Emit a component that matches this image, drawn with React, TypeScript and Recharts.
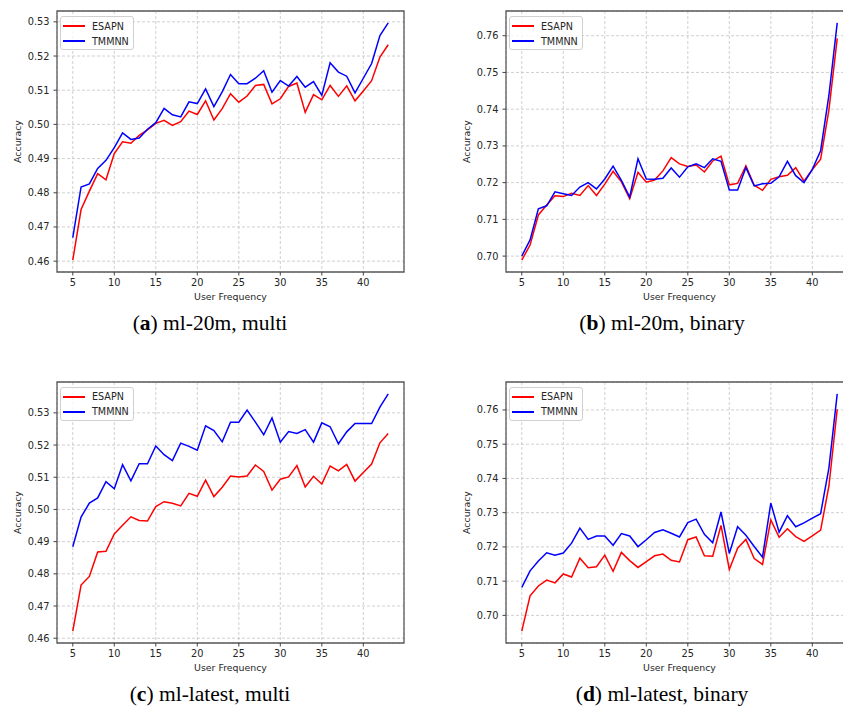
import { LineChart, Line, XAxis, YAxis, CartesianGrid, Legend, ReferenceArea } from "recharts";

const userFrequency = [5, 6, 7, 8, 9, 10, 11, 12, 13, 14, 15, 16, 17, 18, 19, 20, 21, 22, 23, 24, 25, 26, 27, 28, 29, 30, 31, 32, 33, 34, 35, 36, 37, 38, 39, 40, 41, 42, 43];
const xTicks = [5, 10, 15, 20, 25, 30, 35, 40];

// ml-20m, multi
const esapn20mMulti = [0.4603, 0.4751, 0.4805, 0.4856, 0.4838, 0.4915, 0.4949, 0.4945, 0.4968, 0.4984, 0.5003, 0.5012, 0.4997, 0.5008, 0.5039, 0.5029, 0.5069, 0.5013, 0.5046, 0.509, 0.5065, 0.5083, 0.5114, 0.5117, 0.506, 0.5075, 0.5111, 0.5121, 0.5035, 0.5087, 0.5072, 0.5114, 0.5082, 0.5113, 0.5069, 0.5098, 0.5128, 0.5197, 0.5233];
const tmmnn20mMulti = [0.4669, 0.4817, 0.4826, 0.4871, 0.4895, 0.4932, 0.4975, 0.4956, 0.496, 0.4986, 0.5005, 0.5047, 0.5028, 0.5022, 0.5066, 0.5061, 0.5104, 0.5052, 0.5095, 0.5146, 0.5119, 0.5119, 0.5135, 0.5157, 0.5094, 0.5128, 0.5112, 0.514, 0.5109, 0.5125, 0.5085, 0.518, 0.5153, 0.5141, 0.5092, 0.5135, 0.5178, 0.526, 0.5297];

// ml-20m, binary
const esapn20mBinary = [0.6989, 0.703, 0.7112, 0.7139, 0.7164, 0.7162, 0.7171, 0.7165, 0.7192, 0.7165, 0.7196, 0.7231, 0.7202, 0.7156, 0.7228, 0.7201, 0.7207, 0.7232, 0.7268, 0.7251, 0.7244, 0.7248, 0.7229, 0.7259, 0.7272, 0.7194, 0.7198, 0.7246, 0.7193, 0.7179, 0.7209, 0.7216, 0.722, 0.7241, 0.7204, 0.7236, 0.7264, 0.7398, 0.7593];
const tmmnn20mBinary = [0.7, 0.7044, 0.7129, 0.7137, 0.7175, 0.717, 0.7165, 0.7188, 0.72, 0.7183, 0.721, 0.7245, 0.7206, 0.7161, 0.7265, 0.721, 0.7209, 0.7212, 0.724, 0.7215, 0.7243, 0.7251, 0.7241, 0.7265, 0.7258, 0.718, 0.718, 0.7241, 0.7191, 0.7197, 0.7198, 0.7216, 0.7258, 0.7219, 0.72, 0.7236, 0.7287, 0.7438, 0.7635];

// ml-latest, multi
const esapnLatestMulti = [0.4622, 0.4765, 0.4792, 0.4868, 0.487, 0.4924, 0.4951, 0.4977, 0.4966, 0.4964, 0.5009, 0.5024, 0.5019, 0.5011, 0.505, 0.5041, 0.5091, 0.504, 0.5069, 0.5104, 0.5101, 0.5104, 0.5138, 0.5118, 0.506, 0.5094, 0.5101, 0.5136, 0.507, 0.5103, 0.5079, 0.5135, 0.512, 0.514, 0.5088, 0.5115, 0.5141, 0.5207, 0.5236];
const tmmnnLatestMulti = [0.4884, 0.4976, 0.502, 0.5036, 0.5086, 0.5064, 0.5139, 0.5089, 0.5142, 0.5142, 0.5197, 0.517, 0.5152, 0.5206, 0.5196, 0.5184, 0.526, 0.5245, 0.521, 0.5271, 0.5271, 0.5309, 0.5271, 0.5232, 0.5284, 0.5209, 0.5242, 0.5236, 0.5248, 0.5209, 0.5269, 0.5257, 0.5204, 0.5241, 0.5267, 0.5267, 0.5267, 0.5318, 0.5359];

// ml-latest, binary
const esapnLatestBinary = [0.6954, 0.7057, 0.7086, 0.7103, 0.7095, 0.7121, 0.7112, 0.7167, 0.7139, 0.7142, 0.7176, 0.7129, 0.7184, 0.716, 0.714, 0.7157, 0.7174, 0.7179, 0.7161, 0.7156, 0.7221, 0.7229, 0.7174, 0.7173, 0.7263, 0.7134, 0.7196, 0.7222, 0.7166, 0.7149, 0.7279, 0.7228, 0.7253, 0.723, 0.7216, 0.7232, 0.7249, 0.7378, 0.7602];
const tmmnnLatestBinary = [0.7082, 0.713, 0.7159, 0.7183, 0.7176, 0.7182, 0.7211, 0.7255, 0.7222, 0.7232, 0.7232, 0.7205, 0.7239, 0.7232, 0.7201, 0.7221, 0.7242, 0.725, 0.724, 0.7229, 0.7271, 0.7281, 0.7237, 0.7212, 0.7302, 0.7181, 0.7259, 0.7234, 0.7201, 0.717, 0.7328, 0.7243, 0.7291, 0.7259, 0.727, 0.7284, 0.7297, 0.7431, 0.7647];

const multiTicks = [0.46, 0.47, 0.48, 0.49, 0.5, 0.51, 0.52, 0.53];
const binaryTicks = [0.7, 0.71, 0.72, 0.73, 0.74, 0.75, 0.76];

const seriesNames = ["ESAPN", "TMMNN"];
const seriesColors: Record<string, string> = { ESAPN: "#ff0000", TMMNN: "#0000ff" };

const axisFont = "'DejaVu Sans', sans-serif";
const textColor = "#262626";

// matplotlib-style 5% margins
function padded(vals: number[]): [number, number] {
  const lo = Math.min(...vals);
  const hi = Math.max(...vals);
  const pad = (hi - lo) * 0.05;
  return [lo - pad, hi + pad];
}

function LegendBox() {
  return (
    <div style={{ border: "1px solid #d0d0d0", borderRadius: 3, background: "rgba(255,255,255,0.8)", padding: "1.5px 4px 0.5px 2px", fontFamily: axisFont, fontSize: 9.6, color: textColor }}>
      {seriesNames.map((name) => (
        <div key={name} style={{ display: "flex", alignItems: "center", height: 15 }}>
          <div style={{ width: 22, height: 2, background: seriesColors[name], marginRight: 7, flex: "none" }} />
          <span>{name}</span>
        </div>
      ))}
    </div>
  );
}

function Panel({ left, top, esapn, tmmnn, yTicks }: { left: number; top: number; esapn: number[]; tmmnn: number[]; yTicks: number[] }) {
  const data = userFrequency.map((f, i) => ({ freq: f, ESAPN: esapn[i], TMMNN: tmmnn[i] }));
  const xDomain = padded(userFrequency);
  const yDomain = padded([...esapn, ...tmmnn]);
  return (
    <div style={{ position: "absolute", left, top }}>
      <LineChart width={420} height={340} data={data} margin={{ top: 11, right: 16, bottom: 40, left: 0 }} style={{ fontFamily: axisFont }}>
        <CartesianGrid stroke="#c4c4c4" strokeDasharray="3 2" strokeWidth={0.8} />
        <XAxis
          dataKey="freq"
          type="number"
          domain={xDomain}
          ticks={xTicks}
          allowDataOverflow
          height={28}
          axisLine={false}
          tickSize={3.5}
          tickMargin={4}
          tickLine={{ stroke: "#444" }}
          tick={{ fill: textColor, fontSize: 9.8 }}
          label={{ value: "User Frequency", position: "insideBottom", offset: 0, style: { fontSize: 9.4, fill: textColor } }}
        />
        <YAxis
          type="number"
          domain={yDomain}
          ticks={yTicks}
          allowDataOverflow
          width={57}
          axisLine={false}
          tickSize={3.5}
          tickMargin={4}
          tickLine={{ stroke: "#444" }}
          tick={{ fill: textColor, fontSize: 9.8 }}
          tickFormatter={(v: number) => v.toFixed(2)}
          label={{ value: "Accuracy", angle: -90, position: "insideLeft", offset: 18, style: { textAnchor: "middle", fontSize: 9.4, fill: textColor } }}
        />
        <Line type="linear" dataKey="ESAPN" stroke={seriesColors.ESAPN} strokeWidth={1.5} dot={false} isAnimationActive={false} />
        <Line type="linear" dataKey="TMMNN" stroke={seriesColors.TMMNN} strokeWidth={1.5} dot={false} isAnimationActive={false} />
        <ReferenceArea x1={xDomain[0]} x2={xDomain[1]} y1={yDomain[0]} y2={yDomain[1]} fill="none" stroke="#5a5a5a" strokeWidth={1.3} />
        <Legend layout="vertical" align="center" verticalAlign="middle" wrapperStyle={{ left: 60, top: 16, width: "auto", height: "auto" }} content={LegendBox} />
      </LineChart>
    </div>
  );
}

function Caption({ cx, baseline, tag, text }: { cx: number; baseline: number; tag: string; text: string }) {
  const size = 21.5;
  return (
    <div style={{ position: "absolute", left: cx - 150, top: baseline - size * 0.8375, width: 300, textAlign: "center", fontFamily: "'Liberation Serif', serif", fontSize: size, lineHeight: 1, color: "#000", whiteSpace: "nowrap" }}>
      (<b>{tag}</b>) {text}
    </div>
  );
}

export default function App() {
  return (
    <div style={{ position: "absolute", left: 0, top: 0, width: 843, height: 713, overflow: "hidden", background: "#fff" }}>
      <Panel left={0} top={0} esapn={esapn20mMulti} tmmnn={tmmnn20mMulti} yTicks={multiTicks} />
      <Panel left={449} top={0} esapn={esapn20mBinary} tmmnn={tmmnn20mBinary} yTicks={binaryTicks} />
      <Panel left={0} top={370.5} esapn={esapnLatestMulti} tmmnn={tmmnnLatestMulti} yTicks={multiTicks} />
      <Panel left={449} top={370.5} esapn={esapnLatestBinary} tmmnn={tmmnnLatestBinary} yTicks={binaryTicks} />
      <Caption cx={210} baseline={331} tag="a" text="ml-20m, multi" />
      <Caption cx={662} baseline={331} tag="b" text="ml-20m, binary" />
      <Caption cx={210} baseline={702} tag="c" text="ml-latest, multi" />
      <Caption cx={662} baseline={702} tag="d" text="ml-latest, binary" />
    </div>
  );
}
